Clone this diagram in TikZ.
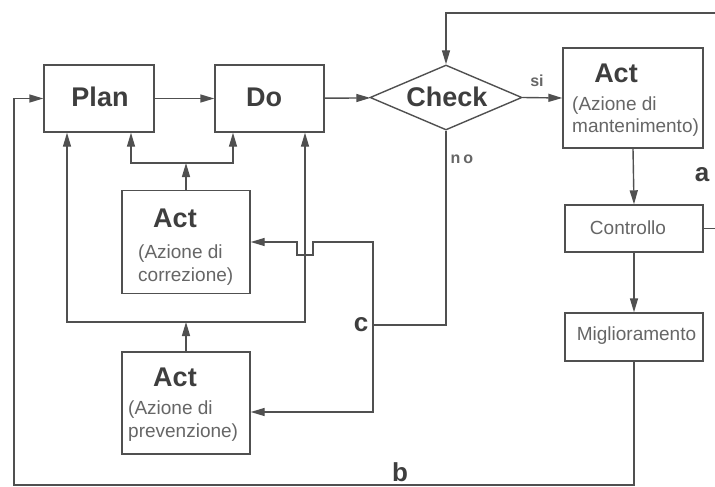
\documentclass[tikz,border=0pt]{standalone}
\usepackage{fontspec}
\setmainfont{Liberation Sans}
\usetikzlibrary{shapes.geometric,arrows.meta}
\definecolor{linegray}{HTML}{505050}
\definecolor{boldgray}{HTML}{3E3E3E}
\definecolor{textgray}{HTML}{666666}
\tikzset{
  flow/.style={draw=linegray, line width=1.4pt},
  arr/.style={flow, -{Triangle[length=14pt,width=8pt]}},
  box/.style={flow, rectangle, inner sep=0pt},
  big/.style={font=\bfseries\fontsize{27}{30}\selectfont, text=boldgray, inner sep=0pt},
  small/.style={font=\fontsize{19}{22}\selectfont, text=textgray, inner sep=0pt},
  tag/.style={font=\bfseries\fontsize{26}{28}\selectfont, text=boldgray, inner sep=0pt},
  tiny/.style={font=\bfseries\fontsize{16}{18}\selectfont, text=textgray, inner sep=0pt}
}
\begin{document}
\begin{tikzpicture}[x=1pt,y=-1pt]
\useasboundingbox[fill=white] (0,0) rectangle (715,487);

% main row
\node[box, minimum width=110pt, minimum height=67pt] (plan) at (99,98.5) {};
\node[big] (plantext) at (100,97) {Plan};
\node[box, minimum width=109pt, minimum height=67pt] (do) at (269.5,98.5) {};
\node[big] (dotext) at (264,97) {Do};
\node[flow, diamond, minimum width=152pt, minimum height=65pt, inner sep=0pt, aspect=2.34] (check) at (446,97.5) {};
\node[big] (checktext) at (447,97) {Check};

% maintenance branch
\node[box, minimum width=140pt, minimum height=100pt] (actm) at (633,98) {};
\node[big] (actmtitle) at (616,73) {Act};
\node[small, anchor=west] (actml1) at (572,106) {(Azione di};
\node[small, anchor=west] (actml2) at (572,128) {mantenimento)};
\node[box, minimum width=138pt, minimum height=47pt] (ctrl) at (634,228.5) {};
\node[small] (ctrltext) at (628,228) {Controllo};
\node[box, minimum width=138pt, minimum height=48pt] (migl) at (634,337) {};
\node[small] (migltext) at (636.5,336) {Miglioramento};

% correction box
\node[box, minimum width=128pt, minimum height=103pt] (actc) at (186,242) {};
\node[big] (actctitle) at (175,218) {Act};
\node[small, anchor=west] (actcl1) at (138,254) {(Azione di};
\node[small, anchor=west] (actcl2) at (138,277) {correzione)};

% prevention box
\node[box, minimum width=128pt, minimum height=102pt] (actp) at (186,403) {};
\node[big] (actptitle) at (175,377) {Act};
\node[small, anchor=west] (actpl1) at (128,410) {(Azione di};
\node[small, anchor=west] (actpl2) at (128,433) {prevenzione)};

% loop labels
\node[tiny] (si) at (537,81) {si};
\node[tiny] (no) at (462,159) {n\hspace{3pt}o};
\node[tag] (la) at (702,175) {a};
\node[tag] (lc) at (361,325) {c};
\node[tag] (lb) at (400,472) {b};

% junction points
\coordinate (topright) at (715,13);
\coordinate (ctrlout) at (715,228.5);
\coordinate (cj) at (373,325);
\coordinate (cup) at (373,242);
\coordinate (aj) at (186,163);
\coordinate (lj) at (186,322);
\coordinate (bl) at (14,485);

% main flow
\draw[arr] (plan) -- (do);
\draw[arr] (do) -- (check);
\draw[arr] (check.east) -- (actm.west);
\draw[arr] (topright) -| (check.north);
\draw[arr] (actm.south) -- (ctrl.north);
\draw[arr] (ctrl.south) -- (migl.north);
\draw[flow] (ctrl.east) -- (ctrlout);

% "no" branch, loop c
\draw[flow] (check.south) |- (cj);
\draw[arr] (cj) -- (cup) -- (313,242) -- (313,255) -- (297,255) -- (297,242) -- (actc.east);
\draw[arr] (cj) |- ([yshift=-9pt]actp.east);

% correction feeds plan and do
\draw[arr] (actc.north) -- (aj);
\draw[arr] (aj) -| ([xshift=32pt]plan.south);
\draw[arr] (aj) -| ([xshift=-36.5pt]do.south);

% prevention feeds plan and do
\draw[arr] (actp.north) -- (lj);
\draw[arr] (lj) -| ([xshift=-32pt]plan.south);
\draw[arr] (lj) -| ([xshift=35.5pt]do.south);

% loop b back to plan
\draw[arr] (migl.south) |- (bl) |- (plan.west);
\end{tikzpicture}
\end{document}
